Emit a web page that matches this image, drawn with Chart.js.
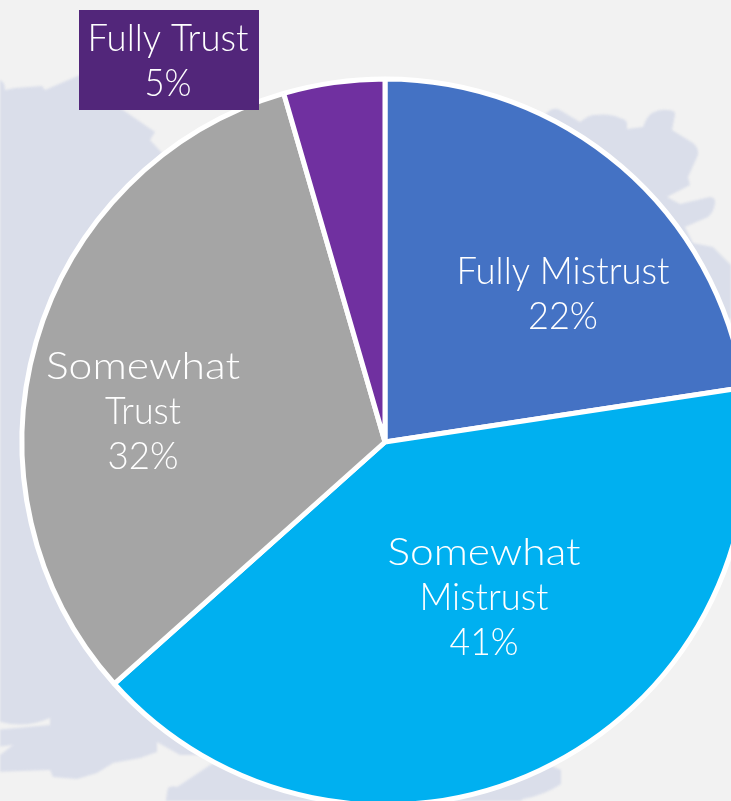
<!DOCTYPE html>
<html><head><meta charset="utf-8">
<style>
html,body{margin:0;padding:0;background:#f2f2f2;overflow:hidden;width:731px;height:801px}
#stage{position:relative;width:731px;height:801px;overflow:hidden;background:#f2f2f2}
#map{position:absolute;left:0;top:0;filter:blur(1px)}
#wrap{position:absolute;left:0;top:0;width:770px;height:884px}
</style>
<script src="https://cdn.jsdelivr.net/npm/chart.js@4"></script>
</head><body>
<div id="stage">
<svg id="map" width="731" height="801" viewBox="0 0 731 801">
<path fill="#dadeea" d="M-5 80 L0 80 Q5 82 5 90 L15 88 L42 86 L45 90 L80 75 L100 85 L123 110 L155 132 L150 140 L162 153 L400 300 L400 600 L300 760 L193 755 L180 755 L157 742 L157 752 L140 758 L113 763 L97 773 L77 779 L53 777 L50 770 L-5 772 L-5 758 L0 755 L13 745 L-5 747 L-5 730 L50 725 L50 718 Q22 730 -5 720 Z"/>
<path fill="#dadeea" d="M548 112 Q552 108 558 109 L580 122 Q590 114 595 115 Q610 113 620 118 Q628 120 627 125 L627 129 L643 127 Q647 116 652 113 Q660 109 667 110 Q676 110 675 115 L672 130 L693 143 Q699 148 698 155 L688 177 L690 185 L667 197 L680 204 L710 197 Q716 198 715 203 Q714 212 708 217 L685 227 L693 243 L713 247 L736 270 L736 320 L600 300 L500 150 Z"/>
<path fill="#dadeea" d="M165 806 L167 793 L168 788 Q172 785 177 787 L210 765 L400 700 L561 770 L561 784 Q545 795 523 799 L515 806 Z"/>
</svg>
<div id="wrap"><canvas id="c" width="770" height="884"></canvas></div>
</div>
<script>
const categories = ["Fully Mistrust", "Somewhat Mistrust", "Somewhat Trust", "Fully Trust"];
const shares = [22.6, 40.8, 32.1, 4.5];
const shownPercent = ["22%", "41%", "32%", "5%"];
const sliceColors = ["#4472c4", "#00b0f0", "#a5a5a5", "#7030a0"];
const labelLines = [["Fully Mistrust"], ["Somewhat", "Mistrust"], ["Somewhat", "Trust"], ["Fully Trust"]];
const labelPlacement = [[563, 272], [484, 553], [143, 367], [168, 39]];
const lineWidths = [[213, 70], [193, 129, 69], [194, 76, 71], [161, 47]];
const lineStep = 45;

const labelsPlugin = {
  id: "sliceLabels",
  afterDatasetsDraw(chart) {
    const ctx = chart.ctx;
    ctx.save();
    ctx.fillStyle = "#52267a";
    ctx.fillRect(79, 10, 180, 100);
    ctx.fillStyle = "#ffffff";
    ctx.font = "300 37px Lato";
    ctx.textAlign = "center";
    ctx.textBaseline = "middle";
    categories.forEach((c, i) => {
      const lines = labelLines[i].concat(shownPercent[i]);
      lines.forEach((t, j) => {
        const sx = lineWidths[i][j] / ctx.measureText(t).width;
        ctx.save();
        ctx.translate(labelPlacement[i][0], labelPlacement[i][1] + j * lineStep);
        ctx.scale(sx, 1);
        ctx.fillText(t, 0, 0);
        ctx.restore();
      });
    });
    ctx.restore();
  }
};

new Chart(document.getElementById("c"), {
  type: "pie",
  data: { labels: categories, datasets: [{ data: shares, backgroundColor: sliceColors, borderColor: "#ffffff", borderWidth: 5, hoverOffset: 0 }] },
  options: {
    responsive: false, animation: false,
    layout: { padding: 19.5 },
    plugins: { legend: { display: false }, tooltip: { enabled: false } }
  },
  plugins: [labelsPlugin]
});
</script>
</body></html>
